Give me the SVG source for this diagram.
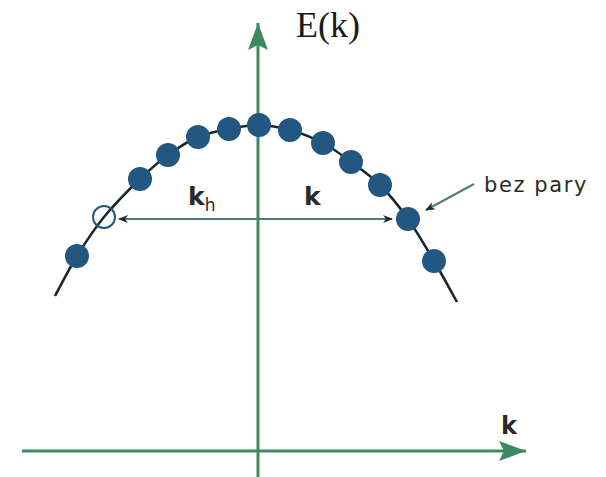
<svg xmlns="http://www.w3.org/2000/svg" width="606" height="477" viewBox="0 0 606 477">
<style>
.axis{stroke:#3b8a60;stroke-width:3;fill:none}
.dim{stroke:#4d7d74;stroke-width:2;fill:none}
.dot{fill:#215781}
.lbl{font-family:"DejaVu Sans","Liberation Sans",sans-serif;fill:#2a2a2a}
</style>
<defs>
<marker id="ah" viewBox="0 0 10 10" refX="9" refY="5" markerWidth="10" markerHeight="10" markerUnits="userSpaceOnUse" orient="auto-start-reverse">
<path d="M0,1 L10,5 L0,9 L3,5 Z" fill="#1e2a28"/>
</marker>
<marker id="gh" viewBox="0 0 28 22" refX="27" refY="11" markerWidth="28" markerHeight="22" markerUnits="userSpaceOnUse" orient="auto">
<path d="M0,1 L27,11 L0,21 L5,11 Z" fill="#3b8a60"/>
</marker>
</defs>
<rect width="606" height="477" fill="#ffffff"/>
<g id="axes">
<line class="axis" x1="258" y1="477" x2="258" y2="23" marker-end="url(#gh)"/>
<line class="axis" x1="22" y1="451" x2="526" y2="451" marker-end="url(#gh)"/>
</g>
<g id="curve">
<path d="M55,296 C58.7,289.3 68.8,269.2 77,256 C85.2,242.8 93.5,229.8 104,217 C114.5,204.2 129.3,189.3 140,179 C150.7,168.7 158.3,162 168,155 C177.7,148 187.8,141.3 198,137 C208.2,132.7 218.8,131 229,129 C239.2,127 248.8,125.2 259,125 C269.2,125.2 279.3,127 290,130 C300.7,133 312.8,137.7 323,143 C333.2,148.3 341.5,155 351,162 C360.5,169 370.5,175.5 380,185 C389.5,194.5 399,206.3 408,219 C417,231.7 425.8,247.2 434,261 C442.2,274.8 453.2,295.2 457,302" fill="none" stroke="#1c2626" stroke-width="2.5"/>
</g>
<g id="connectors">
<line class="dim" x1="119" y1="219" x2="392" y2="219" marker-start="url(#ah)" marker-end="url(#ah)"/>
<line class="dim" x1="474" y1="184" x2="426" y2="210" marker-end="url(#ah)"/>
</g>
<g id="dots">
<circle class="dot" cx="77" cy="256" r="12"/>
<circle cx="104" cy="217" r="11" fill="none" stroke="#215781" stroke-width="2"/>
<circle class="dot" cx="140" cy="179" r="12"/>
<circle class="dot" cx="168" cy="155" r="12"/>
<circle class="dot" cx="198" cy="137" r="12"/>
<circle class="dot" cx="229" cy="129" r="12"/>
<circle class="dot" cx="259" cy="125" r="12"/>
<circle class="dot" cx="290" cy="130" r="12"/>
<circle class="dot" cx="323" cy="143" r="12"/>
<circle class="dot" cx="351" cy="162" r="12"/>
<circle class="dot" cx="380" cy="185" r="12"/>
<circle class="dot" cx="408" cy="219" r="12"/>
<circle class="dot" cx="434" cy="261" r="12"/>
</g>
<g id="labels">
<text x="296" y="37" font-family="'Liberation Serif',serif" font-size="36" fill="#1a1a1a">E(k)</text>
<text class="lbl" x="188" y="205" font-size="25" font-weight="bold">k<tspan font-size="17" font-weight="normal" dy="6">h</tspan></text>
<text class="lbl" x="304" y="205" font-size="25" font-weight="bold">k</text>
<text class="lbl" x="484" y="192" font-size="21" letter-spacing="1.6">bez pary</text>
<text class="lbl" x="501" y="434" font-size="24" font-weight="bold">k</text>
</g>
</svg>
